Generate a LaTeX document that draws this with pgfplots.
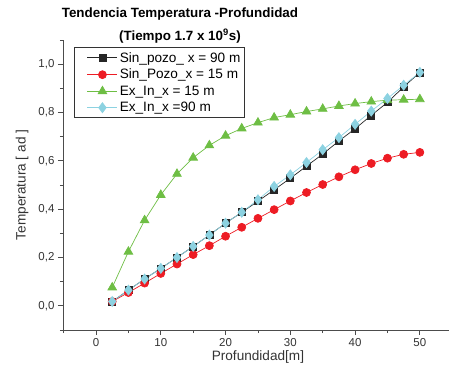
\documentclass[border=0pt]{standalone}
\usepackage{pgfplots}
\pgfplotsset{compat=1.18}
\usepackage{fontspec}
\setmainfont{Liberation Sans}
\definecolor{myred}{RGB}{237,28,36}
\definecolor{mygreen}{RGB}{110,190,68}
\definecolor{mycyan}{RGB}{140,210,225}
\begin{document}
\begin{tikzpicture}
\begin{axis}[
  scale only axis,
  width=386pt, height=290pt,
  xmin=-5.1, xmax=54.5, ymin=-0.1, ymax=1.1,
  axis x line=bottom, axis y line=left,
  axis line style={-, line width=0.8pt, black!70},
  xtick={0,10,20,30,40,50},
  minor xtick={-5,5,15,25,35,45},
  ytick={0,0.2,0.4,0.6,0.8,1.0},
  minor ytick={-0.1,0.1,0.3,0.5,0.7,0.9,1.1},
  tick align=outside,
  major tick length=5pt, minor tick length=3pt,
  tick style={black!70, line width=0.8pt},
  yticklabel style={/pgf/number format/.cd, use comma, fixed, fixed zerofill, precision=1},
  /pgf/number format/assume math mode=true,
  tick label style={font=\fontsize{11.5}{13}\selectfont, black!80},
  xlabel={Profundidad[m]},
  ylabel={Temperatura [ ad ]},
  label style={font=\fontsize{13.6}{15}\selectfont, black!80},
  xlabel style={at={(axis description cs:0.505,0)}, anchor=center, yshift=-27pt},
  ylabel style={at={(axis description cs:0,0.5)}, anchor=center, rotate=0, yshift=41pt},
  title={\textbf{Tendencia Temperatura -Profundidad}\\[8pt]\textbf{(Tiempo 1.7 x 10$^{\mathbf 9}$s)}},
  title style={at={(axis description cs:0.303,1)}, anchor=south, align=center, font=\fontsize{13.4}{15}\selectfont, yshift=-13pt},
  legend style={at={(axis description cs:0.029,0.975)}, anchor=north west, draw=black!80, line width=0.8pt,
    font=\fontsize{13.6}{16}\selectfont, row sep=1.5pt, inner sep=2.5pt},
  legend cell align=left,
  legend image code/.code={\path (0pt,0pt); \draw[mark repeat=2,mark phase=2] plot coordinates {(10pt,0pt)(25pt,0pt)(40pt,0pt)};},
]
\addplot[black!85, line width=0.7pt, mark=square*, mark size=3.5pt, mark options={fill=black!85}] coordinates {
(2.5,0.018)(5,0.065)(7.5,0.111)(10,0.155)(12.5,0.200)(15,0.246)(17.5,0.293)(20,0.342)(22.5,0.387)(25,0.433)
(27.5,0.480)(30,0.528)(32.5,0.578)(35,0.628)(37.5,0.682)(40,0.733)(42.5,0.788)(45,0.842)(47.5,0.906)(50,0.966)};
\addlegendentry{Sin\_pozo\_ x = 90 m}
\addplot[myred, line width=0.7pt, mark=*, mark size=4pt, mark options={fill=myred}] coordinates {
(2.5,0.018)(5,0.055)(7.5,0.094)(10,0.134)(12.5,0.173)(15,0.212)(17.5,0.249)(20,0.288)(22.5,0.325)(25,0.362)
(27.5,0.398)(30,0.434)(32.5,0.469)(35,0.502)(37.5,0.534)(40,0.563)(42.5,0.589)(45,0.611)(47.5,0.627)(50,0.635)};
\addlegendentry{Sin\_Pozo\_x = 15 m}
\addplot[mygreen, line width=0.7pt, mark=triangle*, mark size=5pt, mark options={fill=mygreen}] coordinates {
(2.5,0.076)(5,0.224)(7.5,0.354)(10,0.459)(12.5,0.546)(15,0.613)(17.5,0.664)(20,0.704)(22.5,0.734)(25,0.758)
(27.5,0.779)(30,0.791)(32.5,0.804)(35,0.815)(37.5,0.827)(40,0.837)(42.5,0.845)(45,0.851)(47.5,0.853)(50,0.855)};
\addlegendentry{Ex\_In\_x = 15 m}
\addplot[mycyan, line width=0.7pt, mark=diamond*, mark size=5pt, mark options={fill=mycyan}] coordinates {
(2.5,0.018)(5,0.065)(7.5,0.111)(10,0.155)(12.5,0.200)(15,0.246)(17.5,0.293)(20,0.342)(22.5,0.387)(25,0.439)
(27.5,0.494)(30,0.542)(32.5,0.593)(35,0.646)(37.5,0.696)(40,0.751)(42.5,0.806)(45,0.858)(47.5,0.913)(50,0.966)};
\addlegendentry{Ex\_In\_x =90 m}
\end{axis}
\pgfresetboundingbox
\path[use as bounding box] ([xshift=-63pt,yshift=-37pt]current axis.south west) rectangle ([yshift=40pt]current axis.north east);
\end{tikzpicture}
\end{document}
